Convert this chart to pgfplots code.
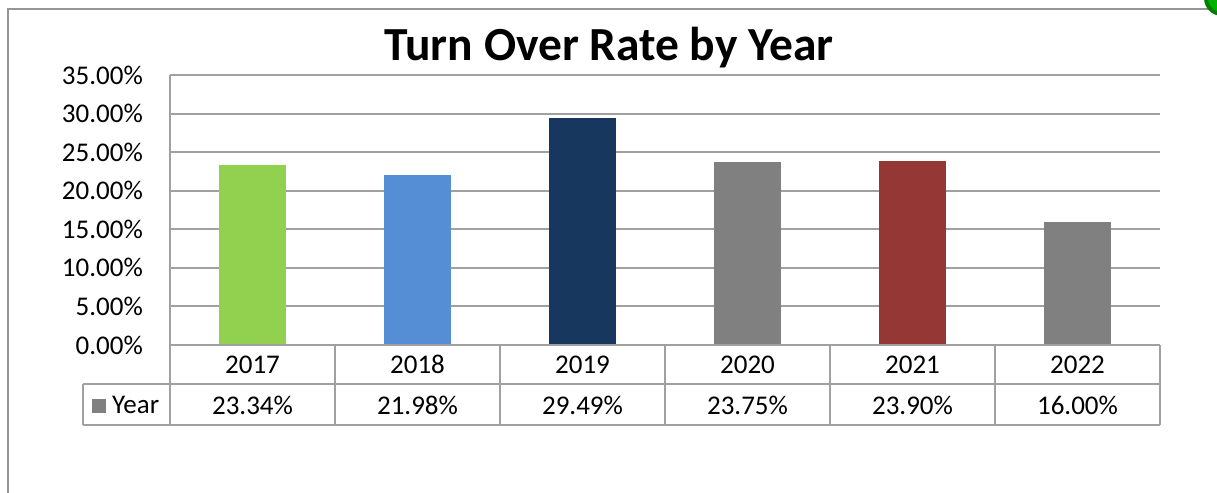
\documentclass[border=0pt]{standalone}
\usepackage{pgfplots}
\pgfplotsset{compat=1.18}
\usepackage{fontspec}
\setmainfont{Carlito}
\definecolor{gridgray}{RGB}{160,160,160}
\definecolor{framegray}{RGB}{150,150,150}
\definecolor{cGreen}{RGB}{146,208,80}
\definecolor{cBlue}{RGB}{85,142,213}
\definecolor{cNavy}{RGB}{23,55,94}
\definecolor{cGray}{RGB}{128,128,128}
\definecolor{cRed}{RGB}{149,55,53}
\begin{document}
\begin{tikzpicture}
\path[use as bounding box] (0,0) rectangle (1217bp,-493bp);
\draw[framegray, line width=2bp] (8bp,-493bp) -- (8bp,-9bp) -- (1217bp,-9bp);
\fill[green!50!black] (1222bp,2bp) circle (18bp);
\fill[green!70!black] (1222bp,2bp) circle (14bp);
\node[font=\fontsize{47.5bp}{52bp}\selectfont\bfseries, anchor=base] at (609bp,-60bp) {Turn Over Rate by Year};
\begin{axis}[
  at={(170bp,-345bp)}, anchor=south west,
  scale only axis, width=990bp, height=270bp,
  xmin=-0.5, xmax=5.5, ymin=0, ymax=35,
  axis x line=bottom, axis y line=left,
  axis line style={gridgray, line width=2bp, -},
  xtick={0,1,2,3,4,5},
  xticklabels={2017,2018,2019,2020,2021,2022},
  ytick={0,5,10,15,20,25,30,35},
  yticklabels={0.00\%,5.00\%,10.00\%,15.00\%,20.00\%,25.00\%,30.00\%,35.00\%},
  major tick length=0pt,
  ymajorgrids,
  grid style={gridgray, line width=2bp},
  tick label style={font=\fontsize{27bp}{30bp}\selectfont, inner sep=0pt},
  yticklabel style={anchor=east, xshift=-27bp},
  xticklabel style={anchor=center, yshift=-19.5bp},
  /pgf/number format/assume math mode=true,
  clip=false,
]
\addplot[ybar, bar width=67bp, bar shift=0pt, fill=cGreen, draw=none] coordinates {(0,23.34)};
\addplot[ybar, bar width=67bp, bar shift=0pt, fill=cBlue, draw=none] coordinates {(1,21.98)};
\addplot[ybar, bar width=67bp, bar shift=0pt, fill=cNavy, draw=none] coordinates {(2,29.49)};
\addplot[ybar, bar width=67bp, bar shift=0pt, fill=cGray, draw=none] coordinates {(3,23.75)};
\addplot[ybar, bar width=67bp, bar shift=0pt, fill=cRed, draw=none] coordinates {(4,23.90)};
\addplot[ybar, bar width=67bp, bar shift=0pt, fill=cGray, draw=none] coordinates {(5,16.00)};
\end{axis}
% data table
\begin{scope}[gridgray, line width=2bp]
\draw (170bp,-345bp) -- (1160bp,-345bp);
\draw (83bp,-384bp) -- (1160bp,-384bp);
\draw (83bp,-425bp) -- (1160bp,-425bp);
\draw (83bp,-384bp) -- (83bp,-425bp);
\foreach \xx in {170,335,500,665,830,995,1160} {\draw (\xx bp,-345bp) -- (\xx bp,-425bp);}
\end{scope}
\fill[cGray] (92bp,-399bp) rectangle (106bp,-413bp);
\begin{scope}[every node/.style={font=\fontsize{27bp}{30bp}\selectfont, inner sep=0pt}]
\node[anchor=west] at (112bp,-405bp) {Year};
\node at (252.5bp,-405bp) {23.34\%};
\node at (417.5bp,-405bp) {21.98\%};
\node at (582.5bp,-405bp) {29.49\%};
\node at (747.5bp,-405bp) {23.75\%};
\node at (912.5bp,-405bp) {23.90\%};
\node at (1077.5bp,-405bp) {16.00\%};
\end{scope}
\end{tikzpicture}
\end{document}
